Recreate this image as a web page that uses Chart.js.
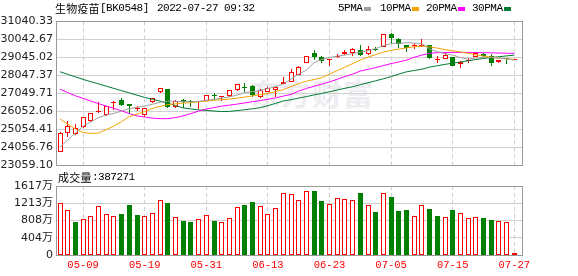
<!DOCTYPE html>
<html>
<head>
<meta charset="utf-8">
<script src="https://cdn.jsdelivr.net/npm/chart.js@4.4.0/dist/chart.umd.min.js"></script>
<style>
  html, body { margin: 0; padding: 0; background: #fff; }
  #wrap { position: relative; width: 578px; height: 276px; overflow: hidden; }
  canvas { position: absolute; left: 0; }
  #priceCanvas { top: 0; }
  #volCanvas { top: 170px; }
  .txt { position: absolute; font-family: "Liberation Mono", monospace; font-size: 11px; letter-spacing: -0.5px; color: #000; white-space: nowrap; line-height: 14px; }
  .cjk { font-family: "Noto Sans CJK SC"; font-size: 11px; letter-spacing: 0.2px; }
  .key { position: absolute; width: 7px; height: 4px; }
  #mark { position: absolute; left: 250px; top: 70px; font: bold 30px "Noto Sans CJK SC"; color: #ededf1; letter-spacing: 1px; }
</style>
</head>
<body>
<div id="wrap">
  <div id="mark">东方财富</div>
  <canvas id="priceCanvas" width="578" height="180"></canvas>
  <canvas id="volCanvas" width="578" height="106"></canvas>

  <div class="txt cjk" style="left:55px; top:1px;">生物疫苗</div>
  <div class="txt" style="left:100px; top:1px;">[BK0548]</div>
  <div class="txt" style="left:157px; top:1px;">2022-07-27 09:32</div>

  <div class="txt" style="left:338px; top:1px;">5PMA</div>
  <div class="key" style="left:364px; top:7px; background:#a0a0a0;"></div>
  <div class="txt" style="left:380px; top:1px;">10PMA</div>
  <div class="key" style="left:412px; top:7px; background:#f5a300;"></div>
  <div class="txt" style="left:426px; top:1px;">20PMA</div>
  <div class="key" style="left:458px; top:7px; background:#ff00ff;"></div>
  <div class="txt" style="left:472px; top:1px;">30PMA</div>
  <div class="key" style="left:504px; top:7px; background:#007a33;"></div>

  <div class="txt cjk" style="left:58px; top:170px;">成交量</div>
  <div class="txt" style="left:92px; top:170px;">:387271</div>
</div>
<script>
// trading days shown (MM-DD)
const dates = ["04-29","05-05","05-06","05-09","05-10","05-11","05-12","05-13","05-16","05-17",
  "05-18","05-19","05-20","05-23","05-24","05-25","05-26","05-27","05-30","05-31",
  "06-01","06-02","06-06","06-07","06-08","06-09","06-10","06-13","06-14","06-15",
  "06-16","06-17","06-20","06-21","06-22","06-23","06-24","06-27","06-28","06-29",
  "06-30","07-01","07-04","07-05","07-06","07-07","07-08","07-11","07-12","07-13",
  "07-14","07-15","07-18","07-19","07-20","07-21","07-22","07-25","07-26","07-27"];

const opens = [23785,24838,24783,25171,25503,26002,25853,26501,26684,26462,
  26202,25853,26556,27144,27277,26279,26684,26645,26573,26645,
  26922,26850,26906,27255,27388,27460,26834,27144,27238,27554,
  27698,28070,28718,29306,29051,28901,29051,29217,29272,29455,
  29217,29511,29605,30342,30048,29716,29694,29660,29732,28918,
  28973,29051,28679,28862,29084,29250,29123,28773,28995,28918];
const highs = [24894,25520,25337,25758,25963,26556,26368,26645,26795,26462,
  26368,26224,26811,27366,27277,26684,26723,26684,26612,26961,
  27055,26906,27238,27571,27610,27499,27277,27388,27421,27942,
  28385,28585,29139,29455,29123,28940,29217,29455,29566,29716,
  29677,29605,30342,30381,30104,29716,29860,30065,29749,29123,
  29272,29084,28862,29012,29361,29289,29233,28918,29028,28956];
const lows = [23785,24650,24744,25149,25481,25980,25797,26130,26351,25908,
  26091,25758,26501,27089,26257,26257,26224,26313,26168,26629,
  26684,26612,26867,27199,27144,26867,26811,27111,26834,27554,
  27698,28070,28718,28901,28718,28585,29028,29195,29123,29123,
  29178,29400,29605,29788,29549,29361,29494,29638,28973,28751,
  28956,28568,28474,28751,29067,29084,28568,28718,28663,28918];
const closes = [24838,25260,25115,25725,25947,26074,26335,26556,26407,26351,
  26241,26224,26778,27366,26279,26645,26556,26560,26612,26961,
  26889,26889,27238,27571,27349,26961,27238,27366,27421,27682,
  28219,28530,29139,29084,28862,28940,29139,29361,29494,29178,
  29494,29472,30342,30104,29788,29549,29732,29716,28995,28956,
  29195,28585,28807,28901,29272,29139,28751,28901,28956,28956];

// volume in 万, and 1 = up day (red), 0 = down day (green)
const volumes = [1212,1048,773,837,907,1141,961,907,961,1172,
  937,907,977,1282,1219,884,797,773,837,930,
  797,766,860,1118,1172,1242,1141,954,1094,1446,
  1423,1282,1493,1500,1266,1188,1329,1305,1282,1453,
  1165,1008,1446,1359,1031,1055,907,1165,1078,914,
  884,1055,977,860,884,860,820,790,766,38.7];
const volUp = [1,1,0,1,1,1,1,1,0,0, 0,1,1,1,0,1,0,0,1,1,
  0,1,1,1,0,0,1,1,1,1, 1,1,1,0,0,1,1,1,1,0,
  1,0,1,0,0,0,1,1,0,0, 1,0,1,1,1,0,0,1,1,1];

const ma5 = [24079,24467,24855,25243,25481,25714,25853,25947,26074,26213,
  26279,26362,26451,26562,26629,26617,26595,26590,26617,26673,
  26728,26795,26867,26961,27100,27155,27210,27321,27432,27571,
  27848,28125,28347,28762,28929,29040,29123,29178,29261,29344,
  29427,29538,29705,29815,29843,29860,29843,29815,29511,29372,
  29261,29178,29040,28956,29012,29051,29040,29012,28967,28901];
const ma10 = [25631,25354,25077,24883,24838,24855,25049,25243,25492,25769,
  25908,26047,26224,26335,26435,26479,26518,26545,26590,26629,
  26673,26706,26739,26795,26850,26917,26983,27055,27155,27266,
  27432,27598,27737,27820,27931,28125,28319,28513,28707,28901,
  29067,29206,29344,29439,29511,29577,29638,29677,29633,29566,
  29483,29416,29355,29272,29200,29123,29067,29012,28967,28940];
const ma20 = [27294,27100,26922,26778,26629,26490,26351,26224,26085,25936,
  25808,25747,25681,25653,25659,25714,25808,25936,26074,26185,
  26268,26351,26407,26462,26529,26595,26656,26728,26806,26906,
  27000,27183,27332,27449,27571,27693,27837,27986,28125,28291,
  28391,28485,28596,28707,28801,28901,29056,29178,29278,29311,
  29322,29328,29328,29328,29322,29311,29306,29294,29283,29272];
const ma30 = [28252,28114,27970,27831,27704,27582,27454,27332,27205,27083,
  26956,26834,26728,26629,26518,26379,26252,26196,26141,26108,
  26080,26047,26058,26102,26152,26202,26263,26374,26501,26634,
  26706,26795,26878,26972,27055,27150,27244,27338,27427,27537,
  27643,27754,27864,27986,28125,28252,28325,28397,28513,28591,
  28663,28735,28790,28868,28929,28990,29045,29089,29134,29178];

const priceTicks = [23059.10,24056.76,25054.41,26052.06,27049.71,28047.37,29045.02,30042.67,31040.33];
const volTicks = [0,404.25,808.5,1212.75,1617];
const volTickLabels = ["0","404万","808万","1213万","1617万"];
const dateTicks = [3,11,19,27,35,43,51,59];

const RED = "#ff0000";
const GREEN = "#008000";
const labelFont = { family: "'DejaVu Sans', 'Noto Sans CJK SC'", size: 11 };

const framePlugin = {
  id: "frame",
  afterDraw(chart) {
    const a = chart.chartArea;
    const ctx = chart.ctx;
    ctx.save();
    ctx.strokeStyle = "#999";
    ctx.lineWidth = 1;
    ctx.strokeRect(Math.floor(a.left) + 0.5, Math.floor(a.top) + 0.5,
      Math.round(a.right - a.left), Math.round(a.bottom - a.top));
    ctx.restore();
  }
};

// snap bar elements to whole pixels so 1px borders stay crisp
const snapPlugin = {
  id: "snap",
  afterDatasetsUpdate(chart) {
    chart.data.datasets.forEach((ds, di) => {
      const meta = chart.getDatasetMeta(di);
      if (meta.type !== "bar") return;
      meta.data.forEach(el => {
        el.x = Math.floor(el.x) + 0.5;
        el.y = Math.round(el.y);
        el.base = Math.round(el.base);
        if (Math.abs(el.base - el.y) < 1) el.base = el.y + 1;
      });
    });
  }
};

function xScale(showLabels) {
  return {
    type: "linear",
    min: -0.52,
    max: 60,
    offset: false,
    afterBuildTicks: s => { s.ticks = dateTicks.map(v => ({ value: v })); },
    afterFit: s => { s.height = showLabels ? 21 : 0; },
    grid: { color: "#cfcfcf", lineWidth: 1, drawTicks: false, offset: false },
    border: { display: false, dash: [4, 3] },
    ticks: {
      display: showLabels,
      autoSkip: false,
      maxRotation: 0,
      padding: 4,
      color: RED,
      font: { family: "'Liberation Mono'", size: 10.5 },
      callback: v => dates[v]
    }
  };
}

const isUp = i => closes[i] >= opens[i];

function maLine(values, color) {
  return {
    type: "line",
    data: values.map((v, i) => ({ x: i, y: v })),
    borderColor: color,
    borderWidth: 1,
    pointRadius: 0,
    tension: 0,
    order: 0
  };
}

// price / candlestick chart
new Chart(document.getElementById("priceCanvas").getContext("2d"), {
  type: "bar",
  data: {
    datasets: [
      maLine(ma5, "#a0a0a0"),
      maLine(ma10, "#f5a300"),
      maLine(ma20, "#ff00ff"),
      maLine(ma30, "#007a33"),
      {
        // candle body
        data: opens.map((o, i) => ({ x: i, y: [Math.min(o, closes[i]), Math.max(o, closes[i])] })),
        backgroundColor: c => isUp(c.dataIndex) ? "#fff" : GREEN,
        borderColor: c => isUp(c.dataIndex) ? RED : GREEN,
        borderWidth: 1,
        borderSkipped: false,
        barThickness: 5,
        minBarLength: 1,
        inflateAmount: 0,
        grouped: false,
        order: 1
      },
      {
        // wick
        data: lows.map((l, i) => ({ x: i, y: [l, highs[i]] })),
        backgroundColor: c => isUp(c.dataIndex) ? RED : GREEN,
        borderWidth: 0,
        barThickness: 1,
        inflateAmount: 0,
        grouped: false,
        order: 2
      }
    ]
  },
  options: {
    responsive: false,
    animation: false,
    devicePixelRatio: 1,
    layout: { padding: { top: 21.5, right: 56, bottom: 14.5, left: 0 } },
    plugins: { legend: { display: false }, tooltip: { enabled: false } },
    scales: {
      x: xScale(false),
      y: {
        min: 23059.10,
        max: 31040.33,
        afterBuildTicks: s => { s.ticks = priceTicks.map(v => ({ value: v })); },
        afterFit: s => { s.width = 56; },
        grid: { color: "#d0d0d0", drawTicks: false },
        border: { display: false },
        ticks: { autoSkip: false, padding: 3, color: "#222", font: labelFont, callback: v => v.toFixed(2) }
      }
    }
  },
  plugins: [snapPlugin, framePlugin]
});

// volume chart
new Chart(document.getElementById("volCanvas").getContext("2d"), {
  type: "bar",
  data: {
    datasets: [{
      data: volumes.map((v, i) => ({ x: i, y: v })),
      backgroundColor: c => volUp[c.dataIndex] ? "#fff" : GREEN,
      borderColor: c => volUp[c.dataIndex] ? RED : GREEN,
      borderWidth: 1,
      borderSkipped: false,
      barThickness: 5,
      inflateAmount: 0,
      grouped: false
    }]
  },
  options: {
    responsive: false,
    animation: false,
    devicePixelRatio: 1,
    layout: { padding: { top: 16, right: 56, bottom: 0, left: 0 } },
    plugins: { legend: { display: false }, tooltip: { enabled: false } },
    scales: {
      x: xScale(true),
      y: {
        min: 0,
        max: 1617,
        afterBuildTicks: s => { s.ticks = volTicks.map(v => ({ value: v })); },
        afterFit: s => { s.width = 56; },
        grid: { color: "#d0d0d0", drawTicks: false },
        border: { display: false },
        ticks: { autoSkip: false, padding: 3, color: "#222", font: labelFont, callback: (v, i) => volTickLabels[i] }
      }
    }
  },
  plugins: [snapPlugin, framePlugin]
});
</script>
</body>
</html>
